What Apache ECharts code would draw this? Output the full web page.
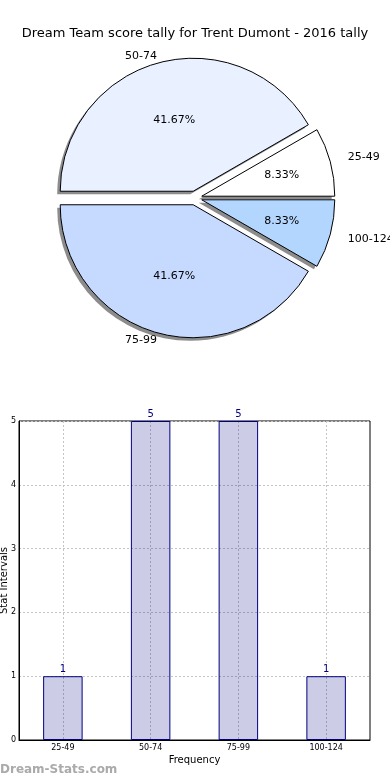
<!DOCTYPE html>
<html><head><meta charset="utf-8">
<script src="https://cdn.jsdelivr.net/npm/echarts@6/dist/echarts.min.js"></script>
<style>html,body{margin:0;padding:0;background:#fff}#c{width:390px;height:780px}</style>
</head><body><div id="c"></div>
<script>
const titleText = 'Dream Team score tally for Trent Dumont - 2016 tally';
const categories = ['25-49', '50-74', '75-99', '100-124'];
const counts = [1, 5, 5, 1];
const pieColors = ['#ffffff', '#e9f0ff', '#c6d9ff', '#b3d6ff'];
const yTicks = [0, 1, 2, 3, 4, 5];
const xAxisName = 'Frequency';
const yAxisName = 'Stat Intervals';
const watermark = 'Dream-Stats.com';

const total = counts.reduce((a, b) => a + b, 0);
const FONT = 'DejaVu Sans';
const R = 133;
const C = [195, 198];
const bigShare = 0.25;
// the reference pie is slightly wider than tall; outside label distance follows that shape
const RX = 140, RY = 128;

let acc = 0;
const labelLens = counts.map(v => {
  const mid = (acc + v / 2) / total * 2 * Math.PI; acc += v;
  return Math.max(3, Math.hypot(1.1 * RX * Math.cos(mid), 1.1 * RY * Math.sin(mid)) - R - 2);
});

const pieData = categories.map((c, i) => ({
  name: c, value: counts[i], selected: true,
  itemStyle: { color: pieColors[i] },
  labelLine: { show: false, length: labelLens[i], length2: 0 }
}));
const shadowData = categories.map((c, i) => ({ name: c, value: counts[i], selected: true }));
const pctBig = categories.map((c, i) => ({
  name: c, value: counts[i], selected: true,
  label: { show: counts[i] / total > bigShare }
}));
const pctSmall = categories.map((c, i) => ({
  name: c, value: counts[i], selected: true,
  label: { show: counts[i] / total <= bigShare }
}));

const ghost = {
  color: 'rgba(0,0,0,0)', borderWidth: 0, borderColor: 'rgba(0,0,0,0)'
};
function pctSeries(data, inner) {
  return {
    type: 'pie', center: C, radius: [R * inner, R],
    startAngle: 0, clockwise: false,
    selectedMode: 'multiple', selectedOffset: 7,
    avoidLabelOverlap: false, silent: true, z: 5,
    data: data,
    itemStyle: ghost,
    select: { itemStyle: ghost },
    label: {
      show: true, position: 'inside',
      formatter: p => (p.value / total * 100).toFixed(2) + '%',
      fontFamily: FONT, fontSize: 11, color: '#000'
    },
    labelLine: { show: false },
    emphasis: { disabled: true }
  };
}

const chart = echarts.init(document.getElementById('c'), null, { renderer: 'canvas' });
chart.setOption({
  animation: false,
  backgroundColor: '#fff',
  title: {
    text: titleText, left: 'center', top: 22,
    textStyle: { fontFamily: FONT, fontSize: 13, fontWeight: 'normal', color: '#000' }
  },
  graphic: [{
    type: 'text', left: 0, top: 764,
    style: { text: watermark, fill: '#aaaaaa', font: 'bold 12px "DejaVu Sans"' }
  }],
  grid: {
    left: 19, right: 20, top: 421, bottom: 40,
    outerBoundsMode: 'none', containLabel: false,
    show: true, borderColor: '#000', borderWidth: 1, backgroundColor: 'transparent'
  },
  xAxis: {
    type: 'category', data: categories,
    name: xAxisName, nameLocation: 'middle', nameGap: 15, nameMoveOverlap: false,
    nameTextStyle: { fontFamily: FONT, fontSize: 10, color: '#000' },
    axisLine: { lineStyle: { color: '#000' } },
    axisTick: { show: false },
    axisLabel: { fontFamily: FONT, fontSize: 8, color: '#000', margin: 4 },
    splitLine: { show: true, alignWithLabel: true, lineStyle: { color: '#c4c4c4', type: [2, 2], width: 1 } }
  },
  yAxis: {
    type: 'value', min: 0, max: 5, interval: 1,
    name: yAxisName, nameLocation: 'middle', nameGap: 10, nameMoveOverlap: false,
    nameTextStyle: { fontFamily: FONT, fontSize: 10, color: '#000' },
    axisLine: { show: true, lineStyle: { color: '#000' } },
    axisTick: { show: false },
    axisLabel: { fontFamily: FONT, fontSize: 8, color: '#000', margin: 3,
      formatter: v => yTicks.includes(v) ? String(v) : '' },
    splitLine: { show: true, lineStyle: { color: '#c4c4c4', type: [2, 2], width: 1 } }
  },
  series: [
    {
      // drop shadow of the pie, drawn as a gray copy shifted down-left
      type: 'pie', center: [C[0] - 3, C[1] + 3], radius: R,
      startAngle: 0, clockwise: false,
      selectedMode: 'multiple', selectedOffset: 7,
      avoidLabelOverlap: false, silent: true, z: 1,
      data: shadowData,
      itemStyle: { color: '#8c8c8c', borderWidth: 0 },
      select: { itemStyle: { color: '#8c8c8c', borderWidth: 0 } },
      label: { show: false }, labelLine: { show: false },
      emphasis: { disabled: true }
    },
    {
      type: 'pie', center: C, radius: R,
      startAngle: 0, clockwise: false,
      selectedMode: 'multiple', selectedOffset: 7,
      avoidLabelOverlap: false, silent: true, z: 2,
      data: pieData,
      itemStyle: { borderColor: '#000', borderWidth: 1 },
      label: {
        show: true, position: 'outside', formatter: '{b}',
        fontFamily: FONT, fontSize: 11, color: '#000', distanceToLabelLine: 0
      },
      labelLine: { show: false, length: 10, length2: 0 },
      emphasis: { disabled: true }
    },
    pctSeries(pctBig, 0.06),
    pctSeries(pctSmall, 0.2),
    {
      type: 'bar', data: counts, barWidth: '45%',
      itemStyle: { color: 'rgba(0,0,128,0.2)', borderColor: '#000080', borderWidth: 1 },
      label: { show: true, position: 'top', distance: 2, fontFamily: FONT, fontSize: 10, color: '#000080' },
      emphasis: { disabled: true }, silent: true
    }
  ]
});
</script></body></html>
